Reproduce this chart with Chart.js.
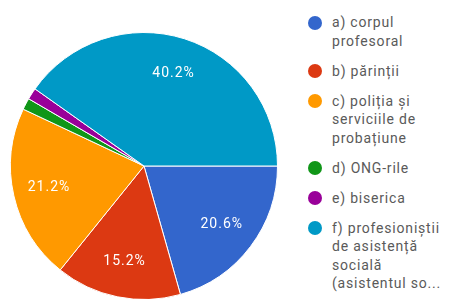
<!DOCTYPE html>
<html>
<head>
<meta charset="utf-8">
<script src="https://cdn.jsdelivr.net/npm/chart.js@4"></script>
<style>
html,body{margin:0;padding:0;background:#fff;width:449px;height:299px;overflow:hidden;font-family:Roboto,sans-serif;}
#wrap{position:absolute;left:10px;top:32px;width:268px;height:268px;}
#legend{position:absolute;left:306px;top:13px;width:143px;margin:0;padding:0;list-style:none;}
#legend li{position:relative;padding-left:26px;font-size:14px;letter-spacing:0.8px;line-height:18.5px;color:#5a5a5a;margin-bottom:11.5px;white-space:nowrap;}
#legend li span{position:absolute;left:2px;top:2.5px;width:14px;height:14px;border-radius:50%;}
</style>
</head>
<body>
<div id="wrap"><canvas id="c"></canvas></div>
<ul id="legend"></ul>
<script>
// ======= Datos =======
const labels = [
  ['a) corpul','profesoral'],
  ['b) părinții'],
  ['c) poliția și','serviciile de','probațiune'],
  ['d) ONG-rile'],
  ['e) biserica'],
  ['f) profesioniștii','de asistență','socială','(asistentul so...']
];
const values = [20.6, 15.2, 21.2, 1.4, 1.4, 40.2];
const colors = ['#3366cc','#dc3912','#ff9900','#109618','#990099','#0099c6'];

// ======= Etiquetas % =======
const pctLabels = {
  id:'pctLabels',
  afterDatasetsDraw(chart){
    const {ctx} = chart;
    const meta = chart.getDatasetMeta(0);
    const total = values.reduce((a,b)=>a+b,0);
    ctx.save();
    ctx.fillStyle = '#fff';
    ctx.font = '14px Roboto, sans-serif';
    ctx.letterSpacing = '1px';
    ctx.textAlign = 'center';
    ctx.textBaseline = 'middle';
    meta.data.forEach((arc,i)=>{
      const pct = values[i]/total*100;
      if(pct < 5) return;
      const mid = (arc.startAngle+arc.endAngle)/2;
      const r = arc.outerRadius*0.73;
      ctx.fillText(values[i].toFixed(1)+'%', arc.x+Math.cos(mid)*r, arc.y+Math.sin(mid)*r);
    });
    ctx.restore();
  }
};

new Chart(document.getElementById('c'),{
  type:'pie',
  data:{labels:labels.map(l=>l.join(' ')),datasets:[{data:values,backgroundColor:colors,borderColor:'#fff',borderWidth:1}]},
  options:{
    responsive:true,maintainAspectRatio:false,animation:false,
    rotation:90,
    layout:{padding:0},
    plugins:{legend:{display:false},tooltip:{enabled:false}}
  },
  plugins:[pctLabels]
});

// ======= Leyenda =======
const ul = document.getElementById('legend');
labels.forEach((l,i)=>{
  const li = document.createElement('li');
  li.innerHTML = '<span style="background:'+colors[i]+'"></span>'+l.join('<br>');
  ul.appendChild(li);
});
</script>
</body>
</html>
